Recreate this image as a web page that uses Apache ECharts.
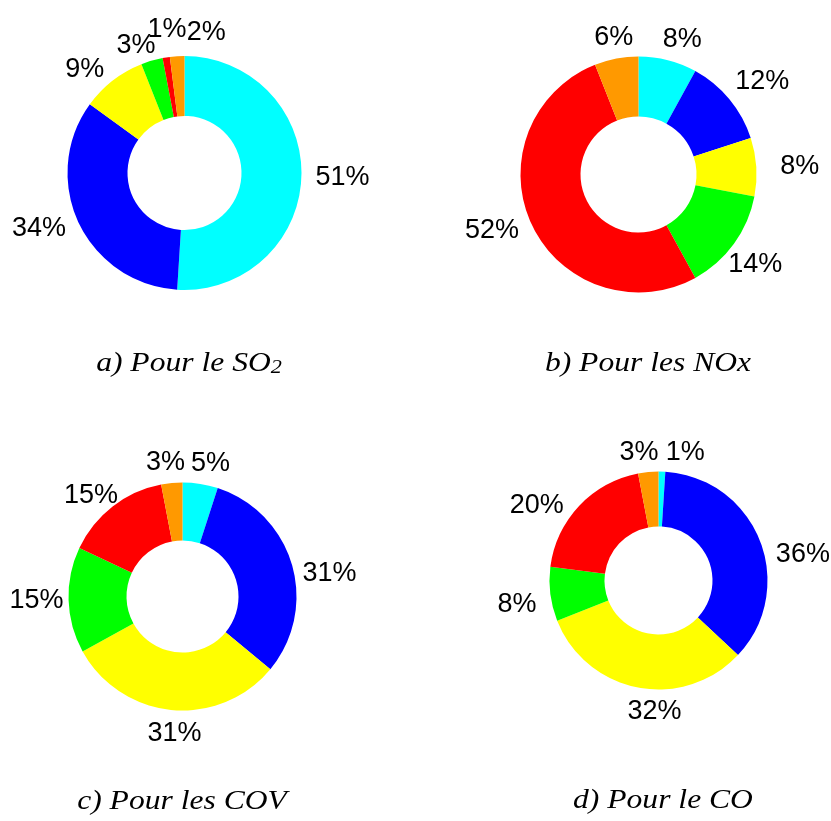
<!DOCTYPE html>
<html><head><meta charset="utf-8">
<script src="https://cdn.jsdelivr.net/npm/echarts@6/dist/echarts.min.js"></script>
<style>html,body{margin:0;padding:0;background:#fff}#c{width:831px;height:821px}</style>
</head><body><div id="c"></div>
<script>
const categories = ['c1','c2','c3','c4','c5','c6'];
const colors = ['#00FFFF','#0000FF','#FFFF00','#00FF00','#FF0000','#FF9900'];
const so2 = [51, 34, 9, 3, 1, 2];
const nox = [8, 12, 8, 14, 52, 6];
const cov = [5, 31, 31, 15, 15, 3];
const co  = [1, 36, 32, 8, 20, 3];
const titles = ['a) Pour le SO', 'b) Pour les NOx', 'c) Pour les COV', 'd) Pour le CO'];

// layout-only nudges (px) applied to the computed label anchors
const nudges = [
  {3:[-12,5], 4:[3,-7], 5:[30,-3]},
  {0:[11,0], 1:[-5,-9], 2:[10,0], 3:[-17,12]},
  {0:[8,0], 1:[-3,13], 2:[4,0], 3:[9,0], 4:[14,0], 5:[-5,0]},
  {0:[23,2], 1:[3,19], 2:[19,0], 3:[0,9], 4:[-5,9], 5:[-8,2]}
];

const chart = echarts.init(document.getElementById('c'), null, {renderer:'canvas'});
function makeLayout(vals, center, R, nudge){
  const total = vals.reduce((a,b)=>a+b,0);
  const GAP = 14;
  return function(p){
    const i = p.dataIndex;
    let cum = 0; for (let k=0;k<i;k++) cum += vals[k];
    const mid = (90 - (cum + vals[i]/2)/total*360) * Math.PI/180;
    const c = Math.cos(mid), s = Math.sin(mid);
    let x = center[0] + (R+GAP)*c, y = center[1] - (R+GAP)*s;
    let align = 'center';
    if (Math.abs(c) < 0.35) { y += s > 0 ? -7 : 10; }
    else { align = c > 0 ? 'left' : 'right'; }
    const n = nudge[i];
    if (n) { x += n[0]; y += n[1]; }
    return {x:x, y:y, align:align, verticalAlign:'middle'};
  };
}
function pieSeries(vals, center, r, ri, nudge){
  return {
    type:'pie', center:center, radius:[ri, r], startAngle:90, clockwise:true,
    avoidLabelOverlap:false, silent:true, animation:false,
    color: colors,
    label:{show:true, position:'outside', formatter:'{c}%', color:'#000', width:90, overflow:'none',
      fontFamily:'Liberation Sans, Arial, sans-serif', fontSize:27},
    labelLine:{show:false, length:14, length2:0},
    labelLayout: makeLayout(vals, center, r, nudge),
    itemStyle:{borderWidth:0},
    data: vals.map((v,i)=>({name:categories[i], value:v}))
  };
}
const tfont = 'italic 27px "Liberation Serif", "Times New Roman", serif';
function title(txt, x, y, sub){
  return {type:'text', x:x, y:y, scaleX:1.17, silent:true,
    style:{ text: sub ? '{n|'+txt+'}{s|'+sub+'}' : '{n|'+txt+'}', x:0, y:0, align:'center', verticalAlign:'middle',
      rich:{ n:{font:tfont, fill:'#000', lineHeight:27, verticalAlign:'bottom'},
             s:{font:'italic 19px "Liberation Serif", "Times New Roman", serif', fill:'#000', lineHeight:6, verticalAlign:'bottom'} } }};
}
chart.setOption({
  backgroundColor:'#fff',
  series:[
    pieSeries(so2, [184.5,173], 117, 57, nudges[0]),
    pieSeries(nox, [638.5,174.5], 118, 58, nudges[1]),
    pieSeries(cov, [182.5,596.5], 114, 56, nudges[2]),
    pieSeries(co,  [658.5,580.5], 109, 54, nudges[3])
  ],
  graphic:[
    title(titles[0], 189, 364, '2'),
    title(titles[1], 648, 364),
    title(titles[2], 182, 802),
    title(titles[3], 663, 801)
  ]
});
</script></body></html>
